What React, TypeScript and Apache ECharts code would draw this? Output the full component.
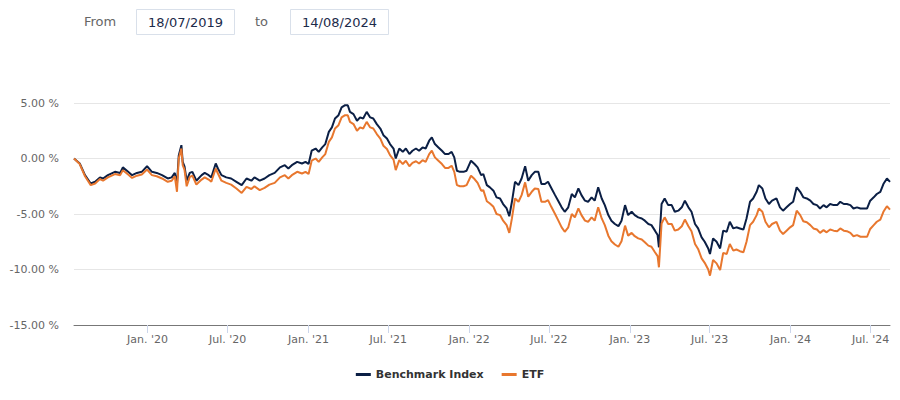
import React, { useEffect, useRef } from "react";
import * as echarts from "echarts";

const dates: string[] = [
  "2019-07-18","2019-07-31","2019-08-12","2019-08-25","2019-09-04","2019-09-15","2019-09-22","2019-10-03","2019-10-19","2019-10-31",
  "2019-11-06","2019-11-18","2019-11-27","2019-12-08","2019-12-19","2019-12-31","2020-01-11","2020-01-22","2020-02-03","2020-02-16",
  "2020-02-25","2020-03-03","2020-03-08","2020-03-12","2020-03-18","2020-03-21","2020-03-25","2020-03-30","2020-04-06","2020-04-12",
  "2020-04-21","2020-05-03","2020-05-10","2020-05-19","2020-05-25","2020-06-04","2020-06-09","2020-06-17","2020-06-28","2020-07-09",
  "2020-07-21","2020-08-02","2020-08-13","2020-08-24","2020-08-31","2020-09-12","2020-09-23","2020-10-04","2020-10-16","2020-10-28",
  "2020-11-08","2020-11-16","2020-11-24","2020-12-06","2020-12-17","2020-12-25","2021-01-01","2021-01-08","2021-01-17","2021-01-24",
  "2021-02-01","2021-02-08","2021-02-16","2021-02-23","2021-03-02","2021-03-10","2021-03-17","2021-03-25","2021-03-31","2021-04-05",
  "2021-04-13","2021-04-21","2021-04-28","2021-05-05","2021-05-13","2021-05-21","2021-05-28","2021-06-05","2021-06-13","2021-06-20",
  "2021-06-28","2021-07-05","2021-07-13","2021-07-18","2021-07-26","2021-08-03","2021-08-10","2021-08-18","2021-08-25","2021-09-02",
  "2021-09-09","2021-09-17","2021-09-24","2021-10-02","2021-10-08","2021-10-15","2021-10-23","2021-10-31","2021-11-07","2021-11-15",
  "2021-11-22","2021-11-28","2021-12-04","2021-12-11","2021-12-19","2021-12-26","2022-01-05","2022-01-13","2022-01-20","2022-01-28",
  "2022-02-02","2022-02-10","2022-02-17","2022-02-25","2022-03-04","2022-03-12","2022-03-19","2022-03-27","2022-04-02","2022-04-08",
  "2022-04-15","2022-04-23","2022-04-30","2022-05-08","2022-05-15","2022-05-23","2022-05-30","2022-06-07","2022-06-14","2022-06-22",
  "2022-06-29","2022-07-07","2022-07-15","2022-07-22","2022-07-30","2022-08-06","2022-08-14","2022-08-22","2022-08-29","2022-09-06",
  "2022-09-13","2022-09-21","2022-09-28","2022-10-06","2022-10-13","2022-10-21","2022-10-29","2022-11-05","2022-11-13","2022-11-20",
  "2022-11-28","2022-12-06","2022-12-13","2022-12-21","2022-12-28","2023-01-05","2023-01-12","2023-01-20","2023-01-28","2023-02-04",
  "2023-02-12","2023-02-19","2023-02-27","2023-03-05","2023-03-08","2023-03-14","2023-03-21","2023-03-29","2023-04-06","2023-04-13",
  "2023-04-21","2023-04-29","2023-05-06","2023-05-14","2023-05-21","2023-05-29","2023-06-05","2023-06-13","2023-06-20","2023-06-28",
  "2023-07-02","2023-07-09","2023-07-17","2023-07-25","2023-08-01","2023-08-09","2023-08-16","2023-08-24","2023-08-31","2023-09-08",
  "2023-09-16","2023-09-23","2023-10-01","2023-10-08","2023-10-16","2023-10-21","2023-10-29","2023-11-05","2023-11-13","2023-11-20",
  "2023-11-30","2023-12-08","2023-12-15","2023-12-23","2023-12-31","2024-01-07","2024-01-15","2024-01-23","2024-01-30","2024-02-07",
  "2024-02-15","2024-02-22","2024-03-01","2024-03-08","2024-03-16","2024-03-23","2024-03-31","2024-04-08","2024-04-16","2024-04-23",
  "2024-05-01","2024-05-08","2024-05-16","2024-05-23","2024-05-31","2024-06-08","2024-06-15","2024-06-23","2024-06-30","2024-07-08",
  "2024-07-15","2024-07-23","2024-07-30","2024-08-07","2024-08-14"
];

const benchmarkIndex: number[] = [
  0.0,-0.45,-1.5,-2.25,-2.1,-1.7,-1.8,-1.5,-1.2,-1.3,
  -0.8,-1.2,-1.5,-1.3,-1.2,-0.7,-1.2,-1.3,-1.5,-1.8,
  -1.7,-1.3,-2.3,0.27,1.2,-0.3,-0.7,-2.0,-1.3,-1.2,
  -2.0,-1.5,-1.3,-1.5,-1.7,-0.45,-0.9,-1.5,-1.7,-1.8,
  -2.1,-2.4,-1.8,-2.0,-1.7,-2.0,-1.8,-1.5,-1.3,-0.8,
  -0.6,-0.9,-0.6,-0.3,-0.45,-0.3,-0.5,0.7,0.9,0.6,
  1.0,1.3,2.4,2.8,3.6,3.9,4.6,4.8,4.8,4.2,
  4.0,3.4,3.7,3.6,4.2,3.7,3.6,3.1,2.7,2.1,
  1.8,1.3,0.9,0.0,0.9,0.6,0.9,0.4,0.7,0.9,
  0.7,1.0,0.9,1.6,1.9,1.3,1.0,0.7,0.4,0.4,
  0.6,0.1,-1.1,-1.2,-1.2,-1.1,-0.2,-0.5,-0.8,-1.5,
  -1.4,-2.4,-2.6,-2.9,-3.5,-3.6,-4.1,-4.5,-5.2,-3.9,
  -2.1,-2.4,-1.8,-0.7,-2.0,-1.5,-1.2,-1.2,-2.3,-2.3,
  -2.1,-2.7,-3.3,-3.8,-4.4,-4.8,-4.4,-3.2,-3.5,-2.7,
  -3.3,-3.8,-3.9,-3.5,-3.8,-2.6,-3.6,-4.2,-5.1,-5.6,
  -5.9,-6.1,-5.6,-4.2,-5.1,-4.8,-5.1,-5.3,-5.4,-5.6,
  -5.9,-6.0,-6.5,-6.9,-8.0,-4.1,-3.6,-4.2,-4.2,-4.8,
  -4.7,-4.4,-3.8,-4.4,-4.8,-5.9,-6.3,-7.1,-7.5,-8.1,
  -8.6,-7.2,-7.5,-8.1,-6.5,-6.6,-5.7,-6.3,-6.2,-6.3,
  -6.4,-5.4,-3.9,-3.6,-3.0,-2.4,-2.7,-3.6,-4.1,-3.8,
  -3.6,-4.4,-4.7,-4.4,-4.1,-3.9,-2.6,-3.0,-3.5,-3.6,
  -3.8,-4.1,-4.2,-4.5,-4.2,-4.4,-4.1,-4.2,-4.2,-3.9,
  -4.1,-4.1,-4.2,-4.5,-4.4,-4.5,-4.5,-4.5,-3.8,-3.5,
  -3.2,-3.0,-2.3,-1.8,-2.1
];

const etf: number[] = [
  0.0,-0.5,-1.6,-2.4,-2.25,-1.85,-2.0,-1.7,-1.4,-1.5,
  -1.05,-1.45,-1.75,-1.55,-1.45,-1.0,-1.5,-1.6,-1.8,-2.1,
  -2.0,-1.6,-3.0,0.0,0.9,-0.6,-1.0,-2.5,-1.65,-1.55,
  -2.35,-1.9,-1.7,-1.9,-2.1,-0.9,-1.35,-2.0,-2.2,-2.35,
  -2.7,-3.1,-2.55,-2.75,-2.5,-2.85,-2.65,-2.35,-2.2,-1.7,
  -1.5,-1.8,-1.5,-1.2,-1.35,-1.2,-1.4,-0.2,0.0,-0.3,
  0.1,0.4,1.5,1.9,2.7,3.0,3.7,3.9,3.9,3.3,
  3.1,2.5,2.8,2.7,3.3,2.8,2.7,2.2,1.8,1.15,
  0.85,0.3,-0.1,-1.05,-0.15,-0.5,-0.2,-0.7,-0.4,-0.25,
  -0.45,-0.15,-0.3,0.4,0.7,0.1,-0.2,-0.5,-0.85,-0.85,
  -0.65,-1.2,-2.4,-2.5,-2.5,-2.4,-1.55,-1.85,-2.2,-2.9,
  -2.85,-3.85,-4.05,-4.35,-5.0,-5.1,-5.6,-6.0,-6.7,-5.4,
  -3.6,-3.9,-3.3,-2.15,-3.45,-3.0,-2.7,-2.75,-3.9,-3.9,
  -3.75,-4.4,-5.0,-5.55,-6.2,-6.6,-6.2,-5.0,-5.3,-4.5,
  -5.1,-5.6,-5.7,-5.3,-5.6,-4.4,-5.4,-6.0,-6.95,-7.45,
  -7.75,-7.95,-7.45,-6.05,-6.95,-6.7,-7.0,-7.2,-7.3,-7.55,
  -7.85,-7.95,-8.45,-8.8,-9.8,-5.85,-5.3,-5.9,-5.9,-6.5,
  -6.4,-6.1,-5.5,-6.1,-6.55,-7.7,-8.15,-9.0,-9.4,-10.0,
  -10.55,-9.15,-9.45,-10.05,-8.5,-8.6,-7.7,-8.3,-8.2,-8.35,
  -8.45,-7.5,-6.0,-5.7,-5.1,-4.5,-4.8,-5.7,-6.2,-5.9,
  -5.7,-6.5,-6.8,-6.5,-6.2,-6.0,-4.7,-5.1,-5.65,-5.75,
  -6.0,-6.3,-6.4,-6.7,-6.45,-6.65,-6.4,-6.5,-6.55,-6.3,
  -6.5,-6.55,-6.7,-7.0,-6.9,-7.05,-7.05,-7.05,-6.35,-6.0,
  -5.7,-5.5,-4.8,-4.3,-4.6
];

const seriesNames: string[] = ["Benchmark Index", "ETF"];
const fromDate = "18/07/2019";
const toDate = "14/08/2024";
const startDate = "2019-07-18";
const endDate = "2024-08-14";
const tickYears: number[] = [2019, 2020, 2021, 2022, 2023, 2024];
const monthNames: Record<number, string> = { 0: "Jan.", 6: "Jul." };

const FONT = "DejaVu Sans";

export default function App() {
  const ref = useRef<HTMLDivElement>(null);

  useEffect(() => {
    if (!ref.current) return;
    const chart = echarts.init(ref.current, null, { renderer: "svg" });
    const toTs = (s: string) => {
      const [y, m, d] = s.split("-").map(Number);
      return Date.UTC(y, m - 1, d);
    };
    const startTs = toTs(startDate);
    const endTs = toTs(endDate);
    const ticks: number[] = [];
    tickYears.forEach((y) => {
      [0, 6].forEach((m) => {
        const t = Date.UTC(y, m, 1);
        if (t >= startTs && t <= endTs) ticks.push(t);
      });
    });

    chart.setOption({
      animation: false,
      grid: { left: 74, right: 10, top: 103, bottom: 75, containLabel: false },
      legend: {
        data: seriesNames,
        bottom: 15,
        left: "center",
        icon: "rect",
        itemWidth: 15,
        itemHeight: 3,
        itemGap: 18,
        textStyle: { fontFamily: FONT, fontSize: 11, fontWeight: "bold", color: "#333333" },
      },
      xAxis: {
        type: "value",
        min: startTs,
        max: endTs,
        scale: true,
        axisLine: { show: true, onZero: false, lineStyle: { color: "#777777", width: 1 } },
        axisTick: {
          show: true,
          length: 8,
          lineStyle: { color: "#ccd6eb" },
          customValues: ticks,
        },
        axisLabel: {
          customValues: ticks,
          margin: 9,
          fontFamily: FONT,
          fontSize: 11,
          color: "#666666",
          formatter: (v: number) => {
            const d = new Date(v);
            return `${monthNames[d.getUTCMonth()] ?? ""} '${String(d.getUTCFullYear()).slice(2)}`;
          },
        },
        splitLine: { show: false },
      },
      yAxis: {
        type: "value",
        min: -15,
        max: 5,
        interval: 5,
        axisLine: { show: false },
        axisTick: { show: false },
        axisLabel: {
          margin: 15,
          fontFamily: FONT,
          fontSize: 11,
          color: "#666666",
          formatter: (v: number) => `${v.toFixed(2)} %`,
        },
        splitLine: { lineStyle: { color: "#e6e6e6", width: 1 } },
      },
      series: [
        {
          name: seriesNames[0],
          type: "line",
          showSymbol: false,
          symbol: "none",
          data: dates.map((d, i) => [toTs(d), benchmarkIndex[i]]),
          lineStyle: { color: "#0b1f45", width: 2 },
          itemStyle: { color: "#0b1f45" },
        },
        {
          name: seriesNames[1],
          type: "line",
          showSymbol: false,
          symbol: "none",
          data: dates.map((d, i) => [toTs(d), etf[i]]),
          lineStyle: { color: "#e8772e", width: 2 },
          itemStyle: { color: "#e8772e" },
        },
      ],
      graphic: [
        {
          type: "text",
          left: 84,
          top: 15,
          style: { text: "From", fontFamily: FONT, fontSize: 13, fill: "#666666" },
        },
        {
          type: "rect",
          shape: { x: 136.5, y: 9.5, width: 98, height: 25 },
          style: { fill: "#ffffff", stroke: "#d9e0ea", lineWidth: 1 },
        },
        {
          type: "text",
          x: 185.5,
          y: 22,
          style: { text: fromDate, fontFamily: FONT, fontSize: 13, fill: "#1c2b4a", align: "center", verticalAlign: "middle" },
        },
        {
          type: "text",
          left: 255,
          top: 15,
          style: { text: "to", fontFamily: FONT, fontSize: 13, fill: "#666666" },
        },
        {
          type: "rect",
          shape: { x: 290.5, y: 9.5, width: 98, height: 25 },
          style: { fill: "#ffffff", stroke: "#d9e0ea", lineWidth: 1 },
        },
        {
          type: "text",
          x: 339.5,
          y: 22,
          style: { text: toDate, fontFamily: FONT, fontSize: 13, fill: "#1c2b4a", align: "center", verticalAlign: "middle" },
        },
      ],
    });
    return () => chart.dispose();
  }, []);

  return (
    <div
      ref={ref}
      style={{ position: "fixed", left: 0, top: 0, width: 900, height: 400, background: "#ffffff" }}
    />
  );
}
